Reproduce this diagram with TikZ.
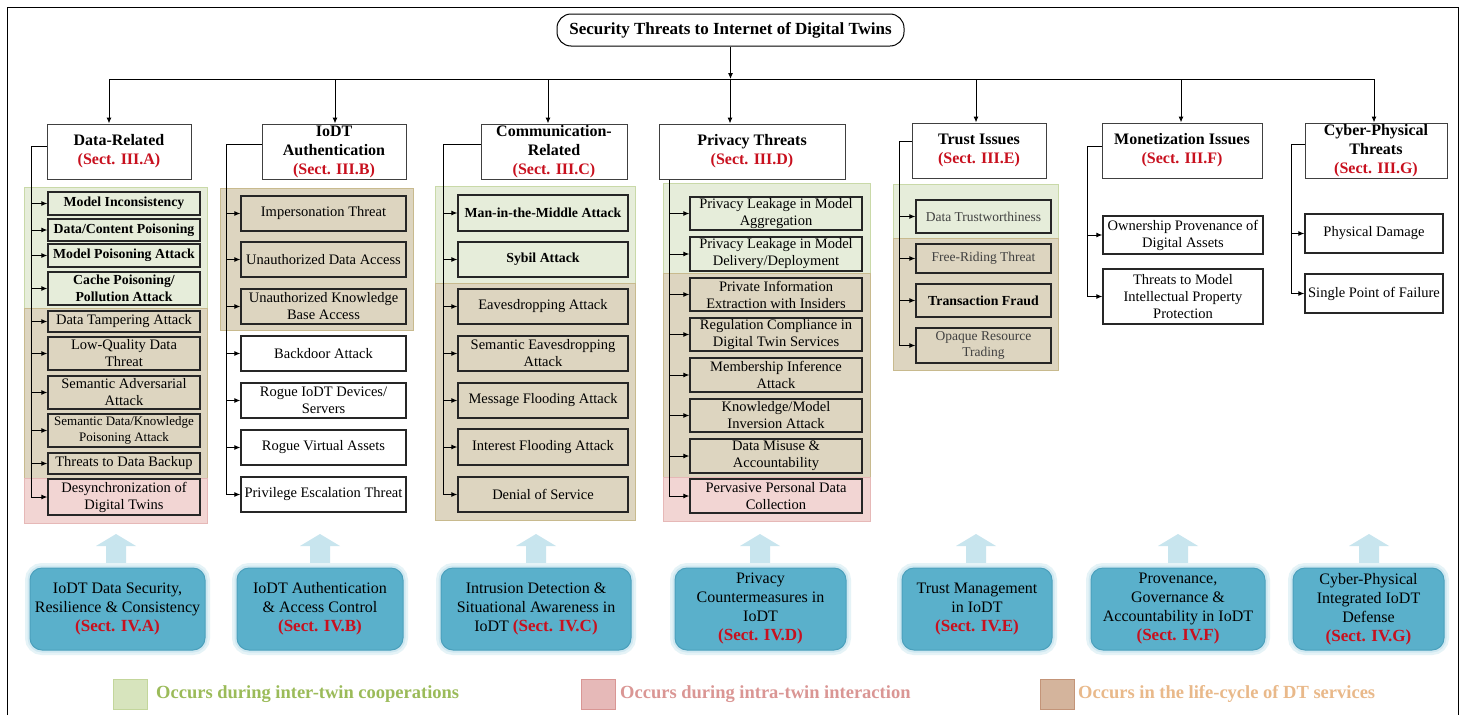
\documentclass[tikz,border=0pt]{standalone}
\usepackage{fontspec}
\setmainfont{Liberation Serif}
\usetikzlibrary{arrows.meta}
\definecolor{gfill}{HTML}{E6EDDA}
\definecolor{gline}{HTML}{C9D9A8}
\definecolor{tfill}{HTML}{DDD5C0}
\definecolor{tline}{HTML}{C8BA8E}
\definecolor{pfill}{HTML}{F2D5D3}
\definecolor{pline}{HTML}{E6B8B7}
\definecolor{sred}{HTML}{C8101E}
\definecolor{bfill}{HTML}{5AB0CB}
\definecolor{bline}{HTML}{4BA0BC}
\definecolor{bglow}{HTML}{C6E4EE}
\definecolor{arrblue}{HTML}{C8E5EE}
\definecolor{lgsqg}{HTML}{D7E4BD}
\definecolor{lgsqgb}{HTML}{C3D69B}
\definecolor{lgsqp}{HTML}{E6B9B8}
\definecolor{lgsqpb}{HTML}{D99694}
\definecolor{lgsqt}{HTML}{D4B49C}
\definecolor{lgsqtb}{HTML}{C39478}
\definecolor{ltg}{HTML}{9BBB59}
\definecolor{ltp}{HTML}{DA9694}
\definecolor{lto}{HTML}{E9B98A}
\definecolor{graytxt}{HTML}{404040}
\newcommand\sect[1]{\textcolor{sred}{(Sect. #1)}}
\newcommand\bsect[1]{\textcolor{sred}{\bfseries\fontsize{17}{19}\selectfont(Sect. #1)}}
\newcommand\bx[7]{\node[#1,minimum width={(#5)-(#3)},minimum height={(#6)-(#4)}] (#2) at ({((#3)+(#5))/2},{((#4)+(#6))/2}) {#7};}
\newcommand\reg[5]{\draw[#1] (#2,#3) rectangle (#4,#5);}
\newcommand\uparr[1]{\fill[arrblue] ({#1-10},567) -- ({#1-10},546) -- ({#1-20},546) -- (#1,534) -- ({#1+20},546) -- ({#1+10},546) -- ({#1+10},567) -- cycle;}
\tikzset{
  itemst/.style={draw=black!85, line width=1.3pt, align=center, inner sep=0pt, font=\fontsize{14.5}{17}\selectfont},
  itemw/.style={itemst, fill=white},
  itemb/.style={itemst, font=\bfseries\fontsize{13.8}{16.5}\selectfont},
  itemg/.style={itemst, text=graytxt, font=\fontsize{13.5}{16.5}\selectfont},
  hdr/.style={draw=black!75, line width=1pt, fill=white, align=center, inner sep=0pt, font=\bfseries\fontsize{16}{19}\selectfont},
  conn/.style={line width=1pt},
  arr/.style={line width=1pt, -{Latex[length=6pt,width=5pt]}},
  greg/.style={fill=gfill, draw=gline, line width=0.8pt},
  treg/.style={fill=tfill, draw=tline, line width=0.8pt},
  preg/.style={fill=pfill, draw=pline, line width=0.8pt},
  bluebox/.style={rounded corners=12pt, fill=bfill, draw=bline, line width=1pt, align=center, inner sep=0pt,
    font=\fontsize{16}{19}\selectfont,
    preaction={draw=bglow!45, line width=10pt},
    preaction={draw=bglow!85, line width=5pt}},
  legsq/.style={minimum width=34pt, minimum height=30pt, inner sep=0pt, line width=1pt},
}
\begin{document}
\begin{tikzpicture}[x=1pt,y=-1pt]
\useasboundingbox (0,0) rectangle (1461,715);
\fill[white] (0,0) rectangle (1461,715);
% frame
\draw[line width=1pt] (7,715) -- (7,7) -- (1458,7) -- (1458,715);
% title
\node[draw, line width=1pt, rounded corners=14pt, minimum width=347pt, minimum height=32pt, inner sep=0pt,
  font=\bfseries\fontsize{17}{20}\selectfont] (title) at (730.5,30) {Security Threats to Internet of Digital Twins};

% background regions
\reg{greg}{24}{187}{207}{308}
\reg{treg}{24}{308}{207}{478}
\reg{preg}{24}{478}{207}{523}
\reg{treg}{220}{188}{413}{330}
\reg{greg}{435}{186}{635}{283}
\reg{treg}{435}{283}{635}{520}
\reg{greg}{663}{183}{870}{273}
\reg{treg}{663}{273}{870}{477}
\reg{preg}{663}{477}{870}{521}
\reg{greg}{893}{184}{1058}{238}
\reg{treg}{893}{238}{1058}{370}

% headers
\bx{hdr}{h1}{47}{124}{191}{179}{Data-Related\\\sect{III.A}}
\bx{hdr}{h2}{262}{124}{406}{179}{IoDT\\Authentication\\\sect{III.B}}
\bx{hdr}{h3}{481}{124}{627}{179}{Communication-\\Related\\\sect{III.C}}
\bx{hdr}{h4}{659}{124}{845}{179}{Privacy Threats\\\sect{III.D}}
\bx{hdr}{h5}{912}{123}{1046}{178}{Trust Issues\\\sect{III.E}}
\bx{hdr}{h6}{1102}{123}{1262}{178}{Monetization Issues\\\sect{III.F}}
\bx{hdr}{h7}{1305}{123}{1447}{178}{Cyber-Physical\\Threats\\\sect{III.G}}

% column 1
\bx{itemb}{m1}{48}{192}{200}{215}{Model Inconsistency}
\bx{itemb}{m2}{48}{219}{200}{241}{Data/Content Poisoning}
\bx{itemb}{m3}{48}{244}{200}{267}{Model Poisoning Attack}
\bx{itemb}{m4}{48}{272}{200}{305}{Cache Poisoning/\\Pollution Attack}
\bx{itemst}{m5}{48}{311}{200}{332}{Data Tampering Attack}
\bx{itemst}{m6}{48}{337}{200}{370}{Low-Quality Data\\Threat}
\bx{itemst}{m7}{48}{376}{200}{409}{Semantic Adversarial\\Attack}
\bx{itemst,font=\fontsize{13}{16}\selectfont}{m8}{48}{414}{200}{447}{Semantic Data/Knowledge\\Poisoning Attack}
\bx{itemst}{m9}{48}{453}{200}{474}{Threats to Data Backup}
\bx{itemst}{m10}{48}{479}{200}{515}{Desynchronization of\\Digital Twins}

% column 2
\bx{itemst}{n1}{241}{196}{406}{231}{Impersonation Threat}
\bx{itemst}{n2}{241}{242}{406}{277}{Unauthorized Data Access}
\bx{itemst}{n3}{241}{289}{406}{324}{Unauthorized Knowledge\\Base Access}
\bx{itemw}{n4}{241}{336}{406}{371}{Backdoor Attack}
\bx{itemw}{n5}{241}{383}{406}{418}{Rogue IoDT Devices/\\Servers}
\bx{itemw}{n6}{241}{430}{406}{465}{Rogue Virtual Assets}
\bx{itemw}{n7}{241}{477}{406}{512}{Privilege Escalation Threat}

% column 3
\bx{itemb}{c1}{458}{195}{628}{231}{Man-in-the-Middle Attack}
\bx{itemb}{c2}{458}{242}{628}{277}{Sybil Attack}
\bx{itemst}{c3}{458}{289}{628}{324}{Eavesdropping Attack}
\bx{itemst}{c4}{458}{336}{628}{371}{Semantic Eavesdropping\\Attack}
\bx{itemst}{c5}{458}{383}{628}{418}{Message Flooding Attack}
\bx{itemst}{c6}{458}{429}{628}{465}{Interest Flooding Attack}
\bx{itemst}{c7}{458}{477}{628}{512}{Denial of Service}

% column 4
\bx{itemst}{p1}{690}{197}{862}{230}{Privacy Leakage in Model\\Aggregation}
\bx{itemst}{p2}{690}{237}{862}{271}{Privacy Leakage in Model\\Delivery/Deployment}
\bx{itemst}{p3}{690}{278}{862}{311}{Private Information\\Extraction with Insiders}
\bx{itemst}{p4}{690}{318}{862}{351}{Regulation Compliance in\\Digital Twin Services}
\bx{itemst}{p5}{690}{358}{862}{392}{Membership Inference\\Attack}
\bx{itemst}{p6}{690}{399}{862}{432}{Knowledge/Model\\Inversion Attack}
\bx{itemst}{p7}{690}{439}{862}{473}{Data Misuse \&\\Accountability}
\bx{itemst}{p8}{690}{479}{862}{513}{Pervasive Personal Data\\Collection}

% column 5
\bx{itemg}{t1}{916}{200}{1051}{233}{Data Trustworthiness}
\bx{itemg}{t2}{916}{244}{1051}{273}{Free-Riding Threat}
\bx{itemb}{t3}{916}{284}{1051}{317}{Transaction Fraud}
\bx{itemg}{t4}{916}{328}{1051}{363}{Opaque Resource\\Trading}

% column 6
\bx{itemw}{o1}{1103}{216}{1263}{254}{Ownership Provenance of\\Digital Assets}
\bx{itemw}{o2}{1103}{269}{1263}{324}{Threats to Model\\Intellectual Property\\Protection}

% column 7
\bx{itemw}{y1}{1305}{214}{1443}{253}{Physical Damage}
\bx{itemw}{y2}{1305}{274}{1443}{313}{Single Point of Failure}

% top connectors
\coordinate (tl) at (109,79);
\coordinate (tr) at (1374,79);
\draw[conn] (tl) -- (tr);
\draw[arr] (title.south) -- (title.south |- tl);
\coordinate (a1) at (109,79);
\coordinate (a2) at (335,79);
\coordinate (a3) at (548,79);
\coordinate (a4) at (730,79);
\coordinate (a5) at (976,79);
\coordinate (a6) at (1181,79);
\coordinate (a7) at (1374,79);
\foreach \i in {1,...,7} \draw[arr] (a\i) -- (a\i |- h\i.north);

% brackets
\coordinate (k1) at (31,146);
\draw[conn] (h1.west |- k1) -- (k1) -- (k1 |- m10.west);
\foreach \n in {m1,m2,m3,m4,m5,m6,m7,m8,m9,m10} \draw[arr] (k1 |- \n.west) -- (\n.west);
\coordinate (k2) at (226,144);
\draw[conn] (h2.west |- k2) -- (k2) -- (k2 |- n7.west);
\foreach \n in {n1,n2,n3,n4,n5,n6,n7} \draw[arr] (k2 |- \n.west) -- (\n.west);
\coordinate (k3) at (443,144);
\draw[conn] (h3.west |- k3) -- (k3) -- (k3 |- c7.west);
\foreach \n in {c1,c2,c3,c4,c5,c6,c7} \draw[arr] (k3 |- \n.west) -- (\n.west);
\coordinate (k4) at (669,179);
\draw[conn] (h4.south -| k4) -- (k4 |- p8.west);
\foreach \n in {p1,p2,p3,p4,p5,p6,p7,p8} \draw[arr] (k4 |- \n.west) -- (\n.west);
\coordinate (k5) at (899,141);
\draw[conn] (h5.west |- k5) -- (k5) -- (k5 |- t4.west);
\foreach \n in {t1,t2,t3,t4} \draw[arr] (k5 |- \n.west) -- (\n.west);
\coordinate (k6) at (1087,146);
\draw[conn] (h6.west |- k6) -- (k6) -- (k6 |- o2.west);
\foreach \n in {o1,o2} \draw[arr] (k6 |- \n.west) -- (\n.west);
\coordinate (k7) at (1291,144);
\draw[conn] (h7.west |- k7) -- (k7) -- (k7 |- y2.west);
\foreach \n in {y1,y2} \draw[arr] (k7 |- \n.west) -- (\n.west);

% blue up arrows
\uparr{116}
\uparr{320}
\uparr{536}
\uparr{760}
\uparr{976}
\uparr{1178}
\uparr{1369}

% blue boxes
\bx{bluebox}{bA}{30}{568}{205}{650}{IoDT Data Security,\\Resilience \& Consistency\\\bsect{IV.A}}
\bx{bluebox}{bB}{237}{568}{403}{650}{IoDT Authentication\\\& Access Control\\\bsect{IV.B}}
\bx{bluebox}{bC}{441}{568}{631}{650}{Intrusion Detection \&\\Situational Awareness in\\IoDT \bsect{IV.C}}
\bx{bluebox}{bD}{675}{568}{846}{650}{Privacy\\Countermeasures in\\IoDT\\\bsect{IV.D}}
\bx{bluebox}{bE}{902}{568}{1052}{650}{Trust Management\\in IoDT\\\bsect{IV.E}}
\bx{bluebox}{bF}{1091}{568}{1265}{650}{Provenance,\\Governance \&\\Accountability in IoDT\\\bsect{IV.F}}
\bx{bluebox}{bG}{1293}{568}{1444}{650}{Cyber-Physical\\Integrated IoDT\\Defense\\\bsect{IV.G}}

% legend
\node[legsq, fill=lgsqg, draw=lgsqgb] (lg1) at (130,694) {};
\node[anchor=west, inner sep=0pt, text=ltg, font=\bfseries\fontsize{18.5}{20}\selectfont] (lt1) at (156,694) {Occurs during inter-twin cooperations};
\node[legsq, fill=lgsqp, draw=lgsqpb] (lg2) at (598,694) {};
\node[anchor=west, inner sep=0pt, text=ltp, font=\bfseries\fontsize{18.5}{20}\selectfont] (lt2) at (620,694) {Occurs during intra-twin interaction};
\node[legsq, fill=lgsqt, draw=lgsqtb] (lg3) at (1057,694) {};
\node[anchor=west, inner sep=0pt, text=lto, font=\bfseries\fontsize{18.5}{20}\selectfont] (lt3) at (1078,694) {Occurs in the life-cycle of DT services};
\end{tikzpicture}
\end{document}
